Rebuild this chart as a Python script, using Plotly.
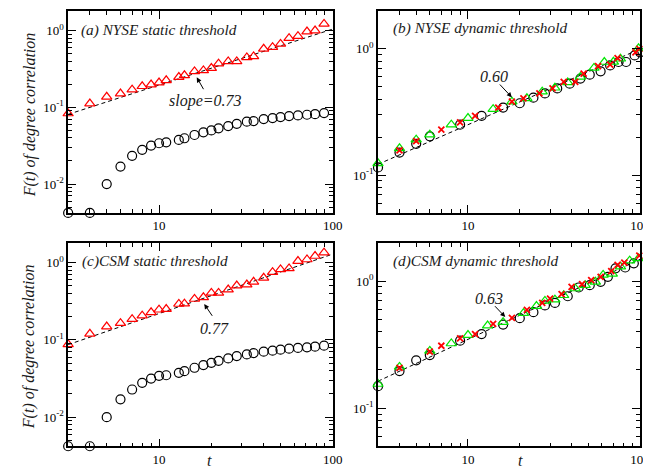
import numpy as np
import plotly.graph_objects as go

# ---------------- data ----------------
t_static = [3, 4, 5, 6, 7, 8, 9, 10, 11, 13, 14, 16, 18, 20, 22, 25, 28, 32, 35, 40, 45, 50, 56, 63, 71, 79, 89]

a_triangle = [0.083, 0.112, 0.137, 0.151, 0.170, 0.188, 0.198, 0.210, 0.225, 0.248, 0.261, 0.294, 0.303, 0.325,
              0.370, 0.396, 0.396, 0.447, 0.46, 0.578, 0.608, 0.671, 0.796, 0.845, 0.97, 1.0, 1.22]
a_circle = [0.0042, 0.0042, 0.0100, 0.0169, 0.0233, 0.0279, 0.0317, 0.034, 0.035, 0.0376, 0.0395, 0.0436, 0.0472,
            0.050, 0.0532, 0.057, 0.061, 0.0649, 0.0662, 0.0703, 0.0724, 0.0746, 0.0769, 0.0784, 0.080, 0.0815, 0.084]

c_triangle = [0.0878, 0.12, 0.149, 0.165, 0.186, 0.206, 0.228, 0.246, 0.251, 0.292, 0.295, 0.339, 0.356, 0.406,
              0.406, 0.449, 0.506, 0.521, 0.565, 0.637, 0.755, 0.818, 0.844, 1.05, 1.10, 1.22, 1.35]
c_circle = [0.0042, 0.0042, 0.010, 0.017, 0.0228, 0.0278, 0.0316, 0.0343, 0.0349, 0.0375, 0.0394, 0.0436, 0.0472,
            0.0506, 0.0537, 0.0576, 0.0618, 0.065, 0.0676, 0.0704, 0.0726, 0.0748, 0.0771, 0.0787, 0.0802, 0.0818, 0.0843]

b_circle_t = [3, 4, 5, 6, 9, 12, 16, 20, 24, 28, 33, 39, 45, 51, 59, 67, 75, 83, 93, 100]
b_circle = [0.115, 0.151, 0.177, 0.203, 0.251, 0.295, 0.343, 0.371, 0.411, 0.444, 0.486, 0.53, 0.582, 0.625,
            0.664, 0.74, 0.787, 0.787, 0.887, 0.94]
b_tri_t = [3, 4, 5, 6, 8, 10, 14, 18, 22, 27, 32, 38, 45, 54, 62, 70, 77, 98]
b_tri = [0.124, 0.163, 0.191, 0.209, 0.251, 0.283, 0.333, 0.382, 0.406, 0.458, 0.492, 0.542, 0.60, 0.706,
         0.787, 0.79, 0.835, 1.01]
b_x_t = [4, 5, 7, 9, 11, 15, 18, 21, 26, 31, 36, 42, 47, 57, 67, 74, 94, 99]
b_x = [0.157, 0.186, 0.229, 0.262, 0.295, 0.343, 0.382, 0.406, 0.444, 0.486, 0.548, 0.548, 0.637, 0.731,
       0.75, 0.846, 0.94, 1.0]

d_circle_t = [3, 4, 5, 6, 9, 12, 16, 20, 24, 28, 32, 38, 44, 51, 59, 65, 72, 82, 92]
d_circle = [0.149, 0.196, 0.238, 0.262, 0.34, 0.383, 0.455, 0.511, 0.570, 0.644, 0.673, 0.76, 0.891, 0.929,
            0.988, 1.08, 1.26, 1.28, 1.38]
d_tri_t = [3, 4, 6, 8, 10, 13, 16, 21, 25, 28, 32, 36, 42, 48, 55, 61, 69, 77, 87, 98]
d_tri = [0.155, 0.211, 0.282, 0.323, 0.376, 0.447, 0.475, 0.56, 0.636, 0.698, 0.715, 0.774, 0.875, 0.929,
         0.988, 1.12, 1.14, 1.30, 1.45, 1.51]
d_x_t = [4, 6, 7, 9, 11, 14, 18, 22, 27, 30, 35, 40, 46, 52, 59, 68, 74, 81, 99]
d_x = [0.208, 0.279, 0.31, 0.354, 0.383, 0.46, 0.514, 0.595, 0.673, 0.728, 0.789, 0.902, 0.947, 1.02,
       1.08, 1.20, 1.34, 1.40, 1.59]

# power-law fits F = A t^slope
fit_slope = {"a": 0.73, "b": 0.60, "c": 0.77, "d": 0.63}
fit_pref = {"a": 0.0363, "b": 0.063, "c": 0.0373, "d": 0.0816}

panel_titles = {"a": "(a) NYSE static threshold", "b": "(b) NYSE dynamic threshold",
                "c": "(c)CSM static threshold", "d": "(d)CSM dynamic threshold"}
slope_labels = {"a": "slope=0.73", "b": "0.60", "c": "0.77", "d": "0.63"}

x_tick_vals = [10, 100]
x_tick_text = ["10", "100"]

# ---------------- layout helpers ----------------
W, H = 651, 467
FONT = "Liberation Serif"
RED, GREEN, BLACK = "#ff0000", "#00e600", "#000000"


def px(p):
    return p / W


def py(p):
    return (H - p) / H


fig = go.Figure()

axes_ids = {"a": ("x", "y"), "b": ("x2", "y2"), "c": ("x3", "y3"), "d": ("x4", "y4")}
t_line = np.array([3.0, 100.0])


def add_line(key):
    xa, ya = axes_ids[key]
    fig.add_trace(go.Scatter(x=t_line, y=fit_pref[key] * t_line ** fit_slope[key], mode="lines",
                             line=dict(color=BLACK, width=1, dash="4px,3px"), xaxis=xa, yaxis=ya,
                             hoverinfo="skip"))


def add_pts(key, t, v, kind):
    xa, ya = axes_ids[key]
    if kind == "circle":
        m = dict(symbol="circle-open", size=9, color=BLACK, line=dict(width=1.2, color=BLACK))
    elif kind == "tri_red":
        m = dict(symbol="triangle-up-open", size=9, color=RED, line=dict(width=1.2, color=RED))
    elif kind == "tri_green":
        m = dict(symbol="triangle-up-open", size=9, color=GREEN, line=dict(width=1.2, color=GREEN))
    else:
        m = dict(symbol="x-thin", size=6, color=RED, line=dict(width=1.8, color=RED))
    fig.add_trace(go.Scatter(x=t, y=v, mode="markers", marker=m, xaxis=xa, yaxis=ya, cliponaxis=False))


for k in ["a", "b", "c", "d"]:
    add_line(k)

add_pts("a", t_static, a_circle, "circle")
add_pts("a", t_static, a_triangle, "tri_red")
add_pts("c", t_static, c_circle, "circle")
add_pts("c", t_static, c_triangle, "tri_red")
add_pts("b", b_circle_t, b_circle, "circle")
add_pts("b", b_tri_t, b_tri, "tri_green")
add_pts("b", b_x_t, b_x, "x")
add_pts("d", d_circle_t, d_circle, "circle")
add_pts("d", d_tri_t, d_tri, "tri_green")
add_pts("d", d_x_t, d_x, "x")

x_minor = [v * m for m in (1, 10) for v in range(2, 10) if 3 < v * m < 100]
y_minor_static = [v * 10.0 ** e for e in (-3, -2, -1) for v in range(2, 10)]
y_minor_dyn = [v * 10.0 ** e for e in (-2, -1, 0) for v in range(2, 10)]

tickfont = dict(family=FONT, size=13, color=BLACK)
X_RANGE = [np.log10(3) - 0.0005, 2.0005]


def xaxis(domain):
    return dict(type="log", range=X_RANGE, domain=domain, showline=True, linecolor=BLACK,
                linewidth=1.5, mirror="allticks", ticks="inside", ticklen=8, tickwidth=1.2, tickcolor=BLACK,
                tickvals=x_tick_vals, ticktext=x_tick_text, showgrid=False, zeroline=False, tickfont=tickfont,
                minor=dict(ticks="inside", ticklen=4, tickwidth=1, tickcolor=BLACK, tickvals=x_minor,
                           showgrid=False))


def yaxis(domain, rng, major, minor, anchor):
    return dict(type="log", range=rng, domain=domain, showline=True, linecolor=BLACK, linewidth=1.5,
                mirror="allticks", ticks="inside", ticklen=8, tickwidth=1.2, tickcolor=BLACK,
                tickvals=major, ticktext=["10<sup>%d</sup>" % round(np.log10(v)) for v in major],
                showgrid=False, zeroline=False, tickfont=tickfont, anchor=anchor,
                minor=dict(ticks="inside", ticklen=4, tickwidth=1, tickcolor=BLACK, tickvals=minor,
                           showgrid=False))


xl = [px(61), px(330)]
xr = [px(375.7), px(642)]
yt = [py(205), py(3)]
yb = [py(438.3), py(235)]
rng_static = [np.log10(0.0042) - 0.0005, 0.255]
rng_dyn = [-1.30, 0.30]

fig.update_layout(
    width=W, height=H, margin=dict(l=0, r=0, t=0, b=0), showlegend=False,
    paper_bgcolor="white", plot_bgcolor="white",
    font=dict(family=FONT),
    xaxis=dict(xaxis(xl), anchor="y"),
    yaxis=yaxis(yt, rng_static, [0.01, 0.1, 1], y_minor_static, "x"),
    xaxis2=dict(xaxis(xr), anchor="y2"),
    yaxis2=yaxis(yt, rng_dyn, [0.1, 1], y_minor_dyn, "x2"),
    xaxis3=dict(xaxis(xl), anchor="y3"),
    yaxis3=yaxis(yb, rng_static, [0.01, 0.1, 1], y_minor_static, "x3"),
    xaxis4=dict(xaxis(xr), anchor="y4"),
    yaxis4=yaxis(yb, rng_dyn, [0.1, 1], y_minor_dyn, "x4"),
)

ann = []
textfont = dict(family=FONT, size=16, color="#1a1a1a")
titlefont = dict(family=FONT, size=15.3, color="#1a1a1a")
# panel titles (left aligned)
for k, (x0, y0) in {"a": (72, 21.7), "b": (389, 20), "c": (72.7, 253.3), "d": (389, 253.3)}.items():
    ann.append(dict(x=px(x0), y=py(y0), xref="paper", yref="paper", xanchor="left", yanchor="middle",
                    text="<i>%s</i>" % panel_titles[k], showarrow=False, font=titlefont))
# slope labels
for k, (x0, y0) in {"a": (201, 93.3), "b": (494, 68.3), "c": (210, 320), "d": (488, 290)}.items():
    ann.append(dict(x=px(x0), y=py(y0), xref="paper", yref="paper", xanchor="center", yanchor="middle",
                    text="<i>%s</i>" % slope_labels[k], showarrow=False, font=textfont))
# arrows (head, tail) in pixels
arrows = {"a": ((191.7, 69.3), (199.3, 82.7)), "b": ((511.7, 89.3), (498.3, 75)),
          "c": ((199.3, 296), (208.3, 309.3)), "d": ((505, 309), (493.3, 296.7))}
for k, ((hx, hy), (tx, ty)) in arrows.items():
    ann.append(dict(x=px(hx), y=py(hy), xref="paper", yref="paper", ax=tx - hx, ay=ty - hy,
                    axref="pixel", ayref="pixel", text="", showarrow=True, arrowhead=2, arrowsize=1,
                    arrowwidth=1, arrowcolor=BLACK))
# y-axis titles
for yc in (106.7, 338.5):
    ann.append(dict(x=px(22), y=py(yc), xref="paper", yref="paper", xanchor="center", yanchor="middle",
                    textangle=-90, text="<i>F(t) of degree correlation</i>", showarrow=False, font=textfont))
# x-axis titles
for xc in (205, 520):
    ann.append(dict(x=px(xc), y=py(452.5), xref="paper", yref="paper", xanchor="center", yanchor="middle",
                    text="<i>t</i>", showarrow=False, font=textfont, borderpad=0))
fig.update_layout(annotations=ann)

fig.write_html("out.html")
